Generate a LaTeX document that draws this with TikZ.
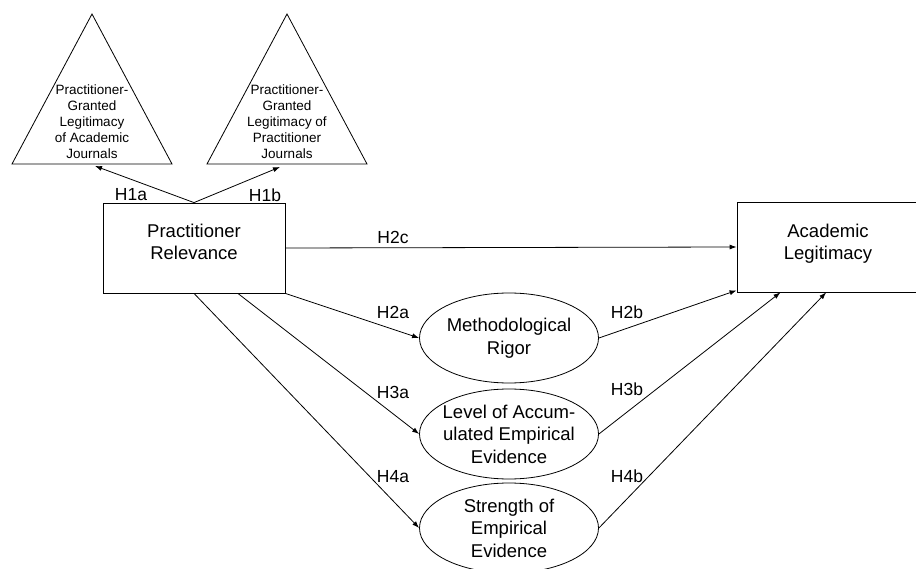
\documentclass[tikz,border=0pt]{standalone}
\usepackage{fontspec}
\setmainfont{Liberation Sans}
\usetikzlibrary{arrows.meta,positioning,calc,shapes.geometric}

\begin{document}
\begin{tikzpicture}[x=1pt,y=-1pt,line width=0.8pt,
    arr/.style={-{Latex[length=7pt,width=5pt]}},
    box/.style={draw,minimum width=182pt,minimum height=90pt,inner sep=0pt},
    boxtext/.style={align=center,font=\fontsize{18.5}{22}\selectfont},
    oval/.style={draw,ellipse,minimum width=179pt,minimum height=90pt,inner xsep=-6pt,inner ysep=-6pt,align=center,font=\fontsize{18.5}{22.5}\selectfont},
    trilabel/.style={align=center,inner sep=0pt,font=\fontsize{13.5}{16}\selectfont},
    hyp/.style={inner sep=0pt,font=\fontsize{17.5}{20}\selectfont}]
    \useasboundingbox (0,0) rectangle (916,569);
                % triangles
                \draw (12,164) -- (92,14) -- (172,164) -- cycle;
                \draw (207,164) -- (287,14) -- (367,164) -- cycle;
                \node[trilabel] (acjour) at (92,122) {Practitioner-\\Granted\\Legitimacy\\of Academic\\Journals};
                \node[trilabel] (prjour) at (287,122) {Practitioner-\\Granted\\Legitimacy of\\Practitioner\\Journals};
                \coordinate (acbase) at (95,166);
                \coordinate (prbase) at (280,167);
                % boxes and ovals
                \node[box] (prac) at (194,248) {};
                \node[box] (acad) at (828,247) {};
                \node[boxtext] (practxt) at (194,242) {Practitioner\\Relevance};
                \node[boxtext] (acadtxt) at (828,244) {Academic\\Legitimacy};
                \node[oval] (rigor) at (509,338) {Methodological\\Rigor};
                \node[oval] (accum) at (509,434) {Level of Accum-\\ulated Empirical\\Evidence};
                \node[oval] (strength) at (509,528) {Strength of\\Empirical\\Evidence};
                % paths
                \draw[arr] (prac.north) -- (acbase);
                \draw[arr] (prac.north) -- (prbase);
                \draw[arr] (prac.east) -- (acad.west);
                \draw[arr] (prac.south east) -- (rigor.west);
                \draw[arr] ($(prac.south)!0.48!(prac.south east)$) -- (accum.west);
                \draw[arr] (prac.south) -- (strength.west);
                \draw[arr] (rigor.east) -- ($(acad.south west)+(0,-2)$);
                \draw[arr] (accum.east) -- ($(acad.south west)!0.24!(acad.south east)$);
                \draw[arr] (strength.east) -- ($(acad.south west)!0.49!(acad.south east)$);
                % labels
                \node[hyp] (l1a) at (131,195) {H1a};
                \node[hyp] (l1b) at (265,195) {H1b};
                \node[hyp] (l2c) at (393,237) {H2c};
                \node[hyp] (l2a) at (393,312) {H2a};
                \node[hyp] (l3a) at (393,392) {H3a};
                \node[hyp] (l4a) at (393,477) {H4a};
                \node[hyp] (l2b) at (627,312) {H2b};
                \node[hyp] (l3b) at (627,389) {H3b};
                \node[hyp] (l4b) at (627,476) {H4b};
            \end{tikzpicture}
\end{document}
